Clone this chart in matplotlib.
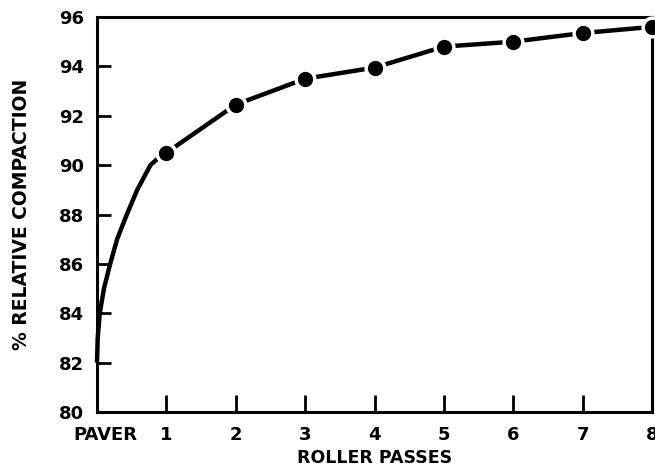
import matplotlib
matplotlib.use("Agg")
import matplotlib.pyplot as plt
from matplotlib.transforms import ScaledTranslation

# values
passes = [1, 2, 3, 4, 5, 6, 7, 8]
compaction = [90.5, 92.45, 93.5, 93.95, 94.8, 95.0, 95.35, 95.6]
# curve below the first pass (behind the paver)
lead_x = [0, 0.01, 0.04, 0.1, 0.19, 0.29, 0.43, 0.58, 0.77, 0.88]
lead_y = [82.0, 83.0, 84.0, 85.0, 86.0, 87.0, 88.0, 89.0, 90.0, 90.28]
x_ticks = [0, 1, 2, 3, 4, 5, 6, 7, 8]
x_labels = ["PAVER", "1", "2", "3", "4", "5", "6", "7", "8"]
y_ticks = [80, 82, 84, 86, 88, 90, 92, 94, 96]

plt.rcParams["font.family"] = ["DejaVu Sans"]
plt.rcParams["font.weight"] = "bold"

fig = plt.figure(figsize=(6.55, 4.68), dpi=100)
ax = fig.add_axes([97 / 655, 1 - 412 / 468, 555 / 655, 395 / 468])

ax.plot(lead_x + passes, lead_y + compaction, color="black", lw=3.2,
        solid_capstyle="butt", solid_joinstyle="round", clip_on=False, zorder=2)
ax.plot(passes, compaction, "o", color="white", ms=16, mew=0,
        clip_on=False, zorder=3)
ax.plot(passes, compaction, "o", color="black", ms=11, mew=0,
        clip_on=False, zorder=4)

ax.set_xlim(0, 8)
ax.set_ylim(80, 96)
ax.set_xticks(x_ticks)
ax.set_xticklabels(x_labels)
ax.set_yticks(y_ticks)

for s in ax.spines.values():
    s.set_linewidth(2.2)

ax.tick_params(axis="both", direction="in", width=2, labelsize=13)
ax.tick_params(axis="x", length=12, pad=10)
ax.tick_params(axis="y", length=10, pad=9)
for lab in ax.get_xticklabels() + ax.get_yticklabels():
    lab.set_fontweight("bold")

paver = ax.get_xticklabels()[0]
paver.set_transform(paver.get_transform() + ScaledTranslation(8 / 100, 0, fig.dpi_scale_trans))

ax.set_xlabel("ROLLER PASSES", fontsize=12.5, fontweight="bold", labelpad=3.5)
ax.set_ylabel("% RELATIVE COMPACTION", fontsize=13.5, fontweight="bold", labelpad=20)

fig.savefig("out.png", dpi=100)
